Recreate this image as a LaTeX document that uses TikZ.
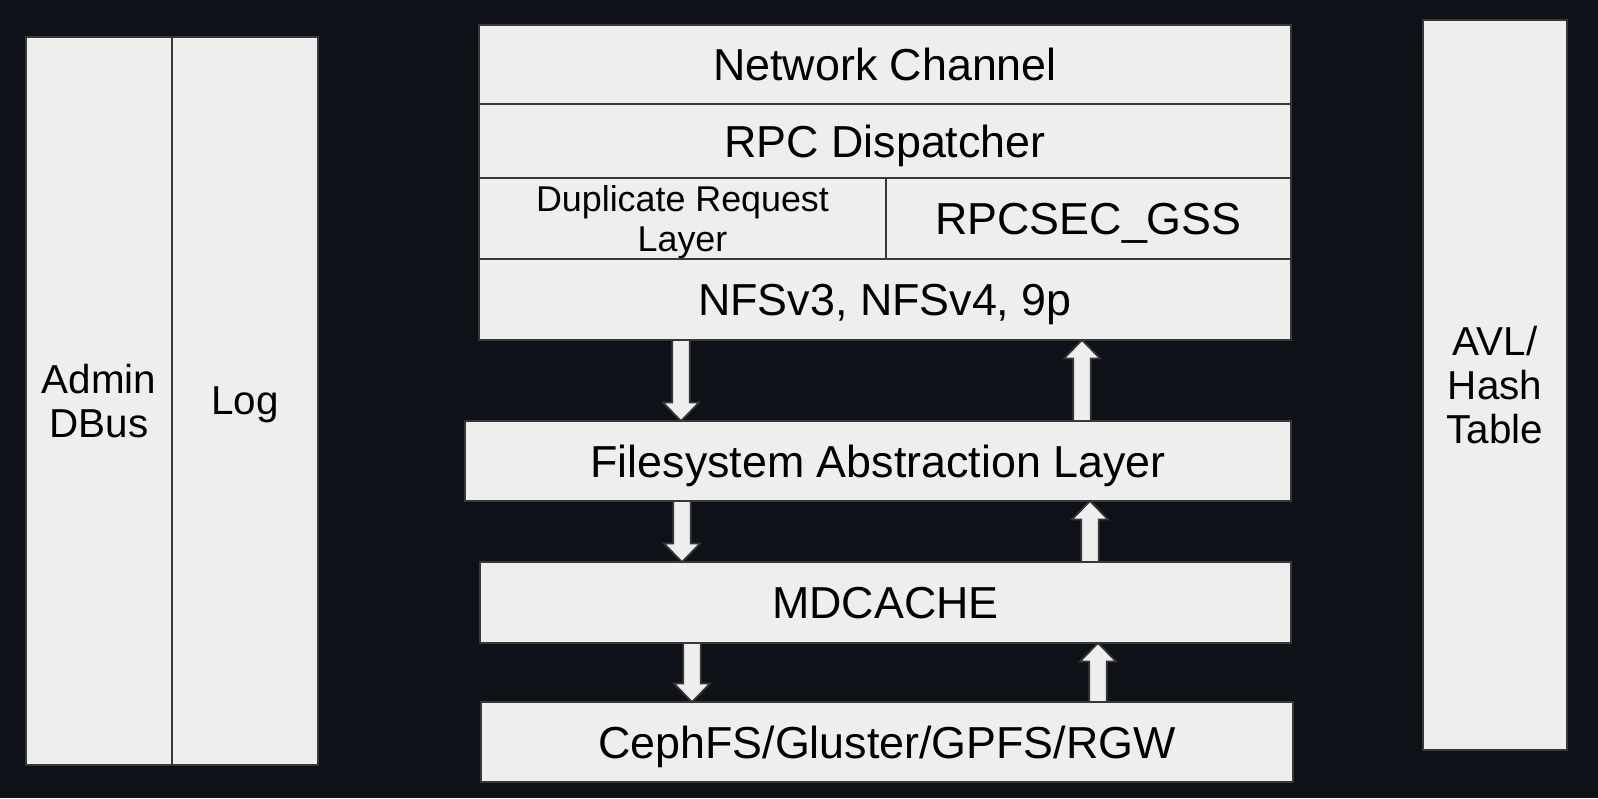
\documentclass[tikz,border=0pt]{standalone}
\usepackage{fontspec}
\setmainfont{Liberation Sans}
\usetikzlibrary{calc}
\definecolor{pagebg}{HTML}{0E1117}
\definecolor{boxfill}{HTML}{EEEEEE}
\definecolor{boxline}{HTML}{383838}
\tikzset{
  layer/.style={draw=boxline,fill=boxfill,line width=1.2pt,anchor=north west,inner sep=0pt,outer sep=0pt,align=center,text=black,text depth=0pt,font=\fontsize{25.5}{25}\selectfont},
  side/.style={layer,font=\fontsize{23}{25}\selectfont},
  flow/.style={draw=boxline,fill=boxfill,line width=1pt,line join=miter},
}
% block arrow from a point on one box to the edge of another
\newcommand{\flowarrow}[2]{%
  \draw[flow] let \p1=(#1), \p2=(#2), \n1={\y2-sign(\y2-\y1)*10.5pt} in
    ({\x1-5pt},\y1) -- ({\x1-5pt},{\n1*1pt}) -- ({\x1-10.2pt},{\n1*1pt}) -- (\x1,\y2)
    -- ({\x1+10.2pt},{\n1*1pt}) -- ({\x1+5pt},{\n1*1pt}) -- ({\x1+5pt},\y1) -- cycle;}

\begin{document}
\begin{tikzpicture}[x=0.02cm,y=-0.02cm]
\fill[pagebg] (0,0) rectangle (1598,798);
\useasboundingbox (0,0) rectangle (1598,798);
% side columns
\node[side,minimum width=146*0.02cm,minimum height=728*0.02cm] (admin) at (26,37) {Admin\\DBus};
\node[side,minimum width=146*0.02cm,minimum height=728*0.02cm] (log) at (172,37) {Log};
\node[side,minimum width=144*0.02cm,minimum height=730*0.02cm] (avl) at (1423,20) {AVL/\\Hash\\Table};
% protocol stack
\node[layer,minimum width=812*0.02cm,minimum height=79*0.02cm] (net) at (479,25) {Network Channel};
\node[layer,minimum width=812*0.02cm,minimum height=74*0.02cm] (rpc) at (479,104) {RPC Dispatcher};
\node[layer,minimum width=407*0.02cm,minimum height=81*0.02cm,font=\fontsize{20.4}{23}\selectfont] (drc) at (479,178) {Duplicate Request\\Layer};
\node[layer,minimum width=405*0.02cm,minimum height=81*0.02cm] (gss) at (886,178) {RPCSEC\_GSS};
\node[layer,minimum width=812*0.02cm,minimum height=81*0.02cm] (nfs) at (479,259) {NFSv3, NFSv4, 9p};
\node[layer,minimum width=826*0.02cm,minimum height=80*0.02cm] (fsal) at (465,421) {Filesystem Abstraction Layer};
\node[layer,minimum width=811*0.02cm,minimum height=81*0.02cm] (mdc) at (480,562) {MDCACHE};
\node[layer,minimum width=812*0.02cm,minimum height=80*0.02cm] (ceph) at (481,702) {CephFS/Gluster/GPFS/RGW};
% calls down, results up
\flowarrow{$(nfs.south west)+(202,0)$}{fsal.north}
\flowarrow{$(fsal.north west)+(617,0)$}{nfs.south}
\flowarrow{$(fsal.south west)+(217,0)$}{mdc.north}
\flowarrow{$(mdc.north west)+(610,0)$}{fsal.south}
\flowarrow{$(mdc.south west)+(212,0)$}{ceph.north}
\flowarrow{$(ceph.north west)+(617,0)$}{mdc.south}
\end{tikzpicture}
\end{document}
